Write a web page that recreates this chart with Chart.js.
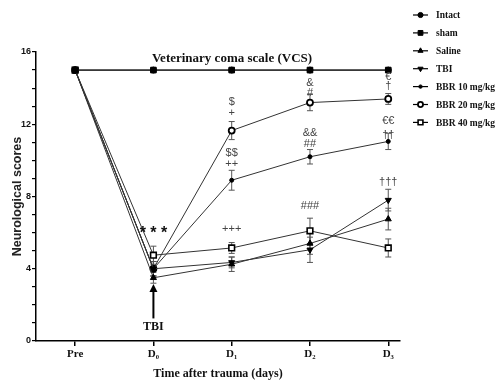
<!DOCTYPE html>
<html>
<head>
<meta charset="utf-8">
<script src="https://cdn.jsdelivr.net/npm/chart.js@4/dist/chart.umd.min.js"></script>
<style>
  html, body { margin: 0; background: #fff; }
  #wrap { width: 502px; height: 384px; }
</style>
</head>
<body>
<div id="wrap"><canvas id="myChart"></canvas></div>
<script>
const days = ["Pre", "D₀", "D₁", "D₂", "D₃"];
const groups = ["Intact", "sham", "Saline", "TBI", "BBR 10 mg/kg", "BBR 20 mg/kg", "BBR 40 mg/kg"];

const intact = [15, 15, 15, 15, 15];
const sham = [15, 15, 15, 15, 15];
const saline = [15, 3.5, 4.25, 5.4, 6.75];
const tbi = [15, 4.0, 4.35, 5.05, 7.8];
const bbr10 = [15, 4.0, 8.9, 10.2, 11.05];
const bbr20 = [15, 4.0, 11.65, 13.2, 13.4];
const bbr40 = [15, 4.75, 5.15, 6.1, 5.15];

const intactErr = [0, 0, 0, 0, 0];
const shamErr = [0, 0, 0, 0, 0];
const salineErr = [0, 0.3, 0.4, 0.6, 0.6];
const tbiErr = [0, 0.4, 0.3, 0.7, 0.6];
const bbr10Err = [0, 0.4, 0.55, 0.4, 0.45];
const bbr20Err = [0, 0.4, 0.5, 0.45, 0.3];
const bbr40Err = [0, 0.5, 0.3, 0.7, 0.5];

// significance marks: text, day index, score where it sits
const annoLabels = ["***", "+++", "###", "†††", "$", "+", "$$", "++", "&", "#", "&&", "##", "€", "†", "€€", "††"];
const annoDay = [1, 2, 3, 4, 2, 2, 2, 2, 3, 3, 3, 3, 4, 4, 4, 4];
const annoScore = [6.1, 6.2, 7.5, 8.8, 13.25, 12.6, 10.4, 9.8, 14.3, 13.75, 11.5, 10.9, 14.6, 14.1, 12.2, 11.4];

const yTicks = [0, 4, 8, 12, 16];

const serif = "'Liberation Serif', 'DejaVu Serif', serif";
const sans = "'Liberation Sans', Arial, sans-serif";

function series(label, values, errs, style) {
  return Object.assign({
    label: label,
    data: values.map((v, i) => ({ x: i, y: v })),
    errs: errs,
    borderColor: "#333",
    borderWidth: 1,
    pointBorderColor: "#000",
    pointBackgroundColor: "#000",
    pointBorderWidth: 1,
    tension: 0,
  }, style);
}

const datasets = [
  series(groups[0], intact, intactErr, { pointStyle: "circle", pointRadius: 3 }),
  series(groups[1], sham, shamErr, { pointStyle: "rect", pointRadius: 4, borderColor: "#000", borderWidth: 1.3 }),
  series(groups[2], saline, salineErr, { pointStyle: "triangle", pointRadius: 3.5 }),
  series(groups[3], tbi, tbiErr, { pointStyle: "triangle", pointRadius: 3.5, pointRotation: 180 }),
  series(groups[4], bbr10, bbr10Err, { pointStyle: "circle", pointRadius: 2 }),
  series(groups[5], bbr20, bbr20Err, { pointStyle: "circle", pointRadius: 3, pointBackgroundColor: "#fff", pointBorderWidth: 1.8 }),
  series(groups[6], bbr40, bbr40Err, { pointStyle: "rect", pointRadius: 4, pointBackgroundColor: "#fff", pointBorderWidth: 1.6 }),
];

const errorBars = {
  id: "errorBars",
  beforeDatasetsDraw(chart) {
    const { ctx, scales } = chart;
    ctx.save();
    ctx.strokeStyle = "#555";
    ctx.lineWidth = 1;
    chart.data.datasets.forEach((ds) => {
      ds.data.forEach((p, i) => {
        const e = ds.errs[i];
        if (!e) return;
        const x = scales.x.getPixelForValue(p.x);
        const y1 = scales.y.getPixelForValue(p.y + e);
        const y2 = scales.y.getPixelForValue(p.y - e);
        ctx.beginPath();
        ctx.moveTo(x, y1); ctx.lineTo(x, y2);
        ctx.moveTo(x - 3, y1); ctx.lineTo(x + 3, y1);
        ctx.moveTo(x - 3, y2); ctx.lineTo(x + 3, y2);
        ctx.stroke();
      });
    });
    ctx.restore();
  },
};

const extras = {
  id: "extras",
  afterDraw(chart) {
    const { ctx, scales } = chart;
    const sx = scales.x, sy = scales.y;
    ctx.save();
    ctx.textAlign = "center";
    ctx.textBaseline = "middle";

    // title
    ctx.fillStyle = "#111";
    ctx.font = "bold 13px " + serif;
    ctx.fillText("Veterinary coma scale (VCS)", 232, 59);

    // significance marks
    annoLabels.forEach((t, i) => {
      const x = sx.getPixelForValue(annoDay[i]);
      const y = sy.getPixelForValue(annoScore[i]);
      ctx.fillStyle = "#444";
      if (t === "***") {
        ctx.fillStyle = "#111";
        ctx.font = "bold 16px " + sans;
        ctx.fillText("* * *", x, y + 3);
      } else {
        ctx.font = "11px " + sans;
        ctx.fillText(t, x, y);
      }
    });

    // TBI arrow at D0
    const ax = sx.getPixelForValue(1);
    const aTop = sy.getPixelForValue(3.15);
    const aBot = sy.getPixelForValue(1.25);
    ctx.strokeStyle = "#000";
    ctx.fillStyle = "#000";
    ctx.lineWidth = 2;
    ctx.beginPath();
    ctx.moveTo(ax, aBot); ctx.lineTo(ax, aTop + 6);
    ctx.stroke();
    ctx.beginPath();
    ctx.moveTo(ax, aTop); ctx.lineTo(ax - 4, aTop + 8); ctx.lineTo(ax + 4, aTop + 8);
    ctx.closePath(); ctx.fill();
    ctx.font = "bold 12px " + serif;
    ctx.fillStyle = "#111";
    ctx.fillText("TBI", ax, sy.getPixelForValue(0.76));

    // legend
    ctx.textAlign = "left";
    ctx.font = "bold 9.5px " + serif;
    chart.data.datasets.forEach((ds, i) => {
      const y = 15 + i * 17.9;
      ctx.strokeStyle = "#000";
      ctx.lineWidth = 1.2;
      ctx.beginPath();
      ctx.moveTo(413, y); ctx.lineTo(428, y);
      ctx.stroke();
      ctx.fillStyle = ds.pointBackgroundColor;
      ctx.strokeStyle = ds.pointBorderColor;
      ctx.lineWidth = ds.pointBorderWidth;
      Chart.helpers.drawPoint(ctx, {
        pointStyle: ds.pointStyle,
        radius: ds.pointRadius * 0.85,
        rotation: ds.pointRotation || 0,
        borderWidth: ds.pointBorderWidth,
      }, 420.5, y);
      ctx.fillStyle = "#111";
      ctx.fillText(ds.label, 436, y + 1);
    });
    ctx.restore();
  },
};

new Chart(document.getElementById("myChart"), {
  type: "line",
  data: { datasets: datasets },
  plugins: [errorBars, extras],
  options: {
    responsive: true,
    maintainAspectRatio: false,
    animation: false,
    layout: { padding: { top: 52, right: 102, left: 0, bottom: 0 } },
    plugins: { legend: { display: false }, tooltip: { enabled: false } },
    scales: {
      x: {
        type: "linear",
        min: -0.5,
        max: 4.15,
        afterBuildTicks: (s) => { s.ticks = days.map((d, i) => ({ value: i })); },
        afterFit: (s) => { s.height = 43; },
        ticks: {
          callback: (v) => days[v],
          color: "#111",
          font: { family: serif, weight: "bold", size: 11 },
          padding: 2,
          maxRotation: 0,
        },
        grid: { drawOnChartArea: false, tickLength: 5, tickColor: "#000", lineWidth: 1.5 },
        border: { color: "#000", width: 1.5 },
        title: {
          display: true,
          text: "Time after trauma (days)",
          color: "#111",
          font: { family: serif, weight: "bold", size: 12 },
          padding: { top: 0, bottom: 3 },
        },
      },
      y: {
        min: 0,
        max: 16,
        afterFit: (s) => { s.width = 36; },
        ticks: {
          stepSize: 1,
          callback: (v) => (yTicks.includes(v) ? v : ""),
          color: "#111",
          font: { family: sans, weight: "bold", size: 9 },
          padding: 1,
        },
        grid: { drawOnChartArea: false, tickLength: 4, tickColor: "#000", lineWidth: 1.2 },
        border: { color: "#000", width: 1.5 },
        title: {
          display: true,
          text: "Neurological scores",
          color: "#222",
          font: { family: sans, weight: "bold", size: 12.5 },
          padding: { top: 10, bottom: 0 },
        },
      },
    },
  },
});
</script>
</body>
</html>
